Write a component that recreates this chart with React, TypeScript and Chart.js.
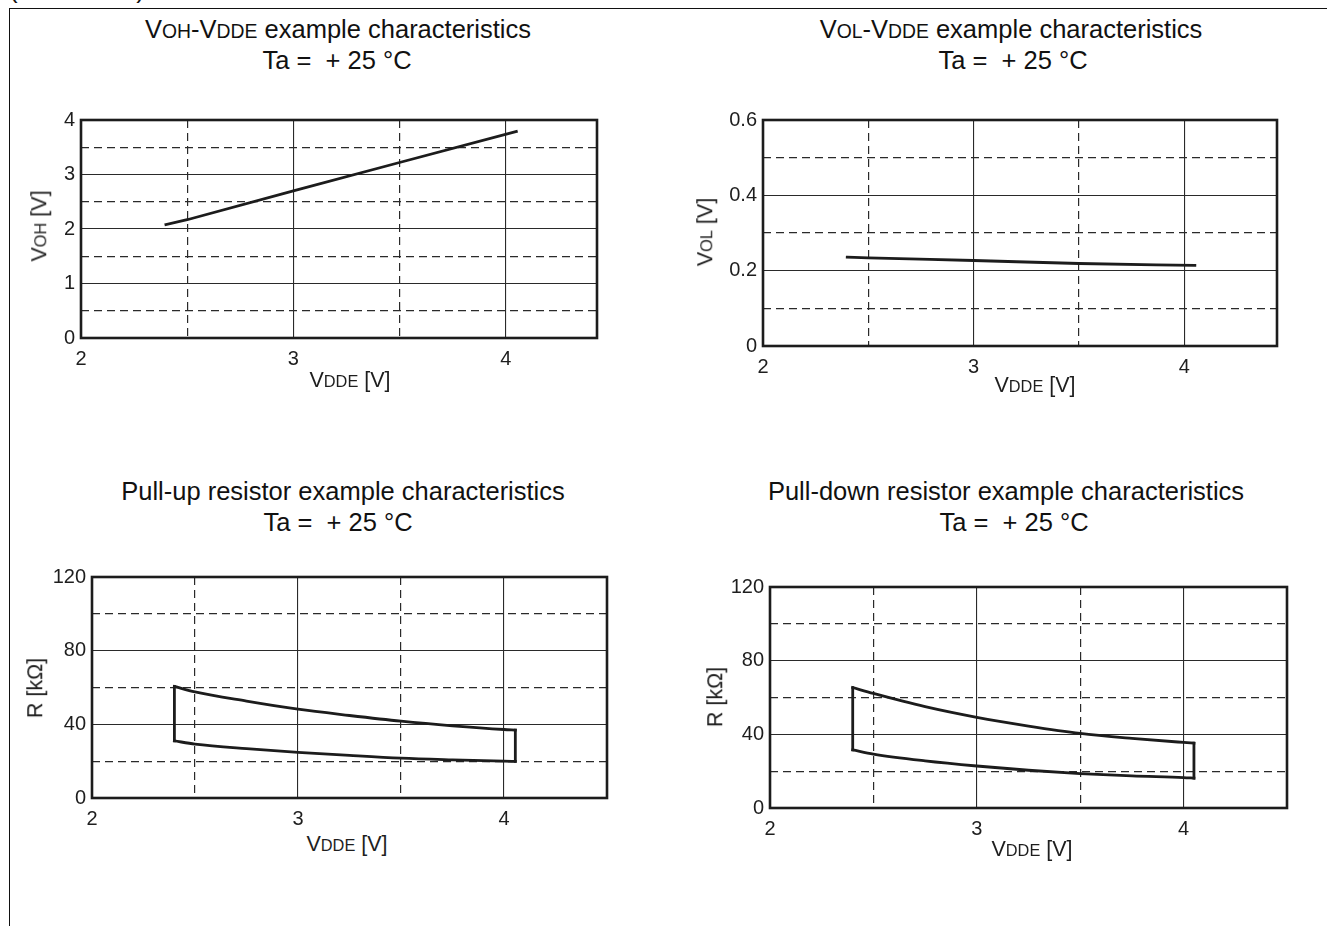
import React, { useEffect, useRef } from "react";
import { Chart, registerables } from "chart.js";

Chart.register(...registerables);

const FONT = "'Liberation Sans', Arial, Helvetica, sans-serif";

// ---- Data ----
// VOH - VDDE
const vohVdde = [2.4, 2.5, 3.0, 3.5, 4.05];
const vohValues = [2.08, 2.17, 2.7, 3.22, 3.79];

// VOL - VDDE
const volVdde = [2.4, 2.5, 3.0, 3.5, 4.05];
const volValues = [0.236, 0.234, 0.227, 0.219, 0.214];

// Pull-up resistor (upper / lower bound curves)
const pullUpVdde = [2.4, 2.5, 2.75, 3.0, 3.25, 3.5, 3.75, 4.0, 4.055];
const pullUpMax = [60.6, 57.6, 52.6, 48.2, 44.8, 41.7, 39.2, 37.2, 36.9];
const pullUpMin = [31.0, 29.3, 26.8, 24.8, 23.1, 21.6, 20.7, 20.0, 19.9];

// Pull-down resistor (upper / lower bound curves)
const pullDownVdde = [2.4, 2.5, 2.75, 3.0, 3.25, 3.5, 3.75, 4.0, 4.05];
const pullDownMax = [65.4, 62.2, 55.0, 49.2, 44.5, 40.5, 37.8, 35.6, 35.2];
const pullDownMin = [31.6, 29.3, 25.6, 22.8, 20.5, 18.7, 17.4, 16.5, 16.2];

// Axis tick settings
const xTickStep = 0.5;
const xLabelStep = 1;
const vohTickStep = 0.5;
const vohLabelStep = 1;
const volTickStep = 0.1;
const volLabelStep = 0.2;
const resTickStep = 20;
const resLabelStep = 40;

// ---- Layout ----
const AXW = 60;
const AXH = 34;
const PADT = 14;
const PADR = 12;
const LINE = "#1c1c1c";
const TEXT = "#1e1e1e";

const isMult = (v: number, step: number) =>
  Math.abs(v / step - Math.round(v / step)) < 1e-6;

const fmt = (v: number) => String(Math.round(v * 1000) / 1000);

const framePlugin = {
  id: "frameBox",
  afterDatasetsDraw(chart: any) {
    const { ctx, chartArea } = chart;
    const { left, top, right, bottom } = chartArea;
    ctx.save();
    ctx.strokeStyle = LINE;
    ctx.lineWidth = 2.6;
    ctx.strokeRect(left, top, right - left, bottom - top);
    ctx.restore();
  },
};

function lineDataset(xs: number[], ys: number[], mono = false) {
  return {
    data: xs.map((x, i) => ({ x, y: ys[i] })),
    showLine: true,
    borderColor: LINE,
    borderWidth: 2.8,
    pointRadius: 0,
    fill: false,
    tension: 0,
    cubicInterpolationMode: mono ? "monotone" : "default",
    borderCapStyle: "square",
    borderJoinStyle: "miter",
  };
}

function edgeDataset(x: number, y1: number, y2: number) {
  return lineDataset([x, x], [y1, y2]);
}

type Spec = {
  L: number;
  T: number;
  R: number;
  B: number;
  xMax: number;
  yMax: number;
  yStep: number;
  yLabelStep: number;
  datasets: any[];
};

function buildConfig(s: Spec): any {
  const gridColor = "#2a2a2a";
  const axisCommon = (step: number, labelStep: number, isX: boolean) => ({
    type: "linear",
    ticks: {
      stepSize: step,
      includeBounds: false,
      autoSkip: false,
      maxRotation: 0,
      padding: isX ? 9 : 6,
      color: TEXT,
      font: { family: FONT, size: 20 },
      callback: (v: number) => (isMult(v, labelStep) ? fmt(v) : ""),
    },
    grid: {
      drawTicks: false,
      color: gridColor,
      lineWidth: (ctx: any) =>
        ctx.tick && isMult(ctx.tick.value, labelStep) ? 1.1 : 1.2,
    },
    border: {
      display: false,
      dash: (ctx: any) =>
        ctx.tick && !isMult(ctx.tick.value, labelStep) ? [8, 5] : [],
    },
  });
  const x = {
    ...axisCommon(xTickStep, xLabelStep, true),
    min: 2,
    max: s.xMax,
    afterFit: (scale: any) => {
      scale.height = AXH;
    },
  };
  const y = {
    ...axisCommon(s.yStep, s.yLabelStep, false),
    min: 0,
    max: s.yMax,
    afterFit: (scale: any) => {
      scale.width = AXW;
    },
  };
  return {
    type: "scatter",
    data: { datasets: s.datasets },
    options: {
      responsive: false,
      maintainAspectRatio: false,
      animation: false,
      events: [],
      layout: { padding: { left: 0, top: PADT, right: PADR, bottom: 0 } },
      plugins: {
        legend: { display: false },
        tooltip: { enabled: false },
        title: { display: false },
      },
      scales: { x, y },
    },
    plugins: [framePlugin],
  };
}

function ChartBox({ spec }: { spec: Spec }) {
  const ref = useRef<HTMLCanvasElement | null>(null);
  const w = spec.R - spec.L + AXW + PADR;
  const h = spec.B - spec.T + PADT + AXH;
  useEffect(() => {
    if (!ref.current) return;
    const chart = new Chart(ref.current, buildConfig(spec));
    return () => chart.destroy();
  }, []);
  return (
    <canvas
      ref={ref}
      width={w}
      height={h}
      style={{
        position: "absolute",
        left: spec.L - AXW,
        top: spec.T - PADT,
        width: w,
        height: h,
      }}
    />
  );
}

const Sm = ({ children }: { children: any }) => (
  <span style={{ fontSize: "0.76em" }}>{children}</span>
);

function Label({
  x,
  y,
  size,
  rotate = false,
  color = TEXT,
  children,
}: {
  x: number;
  y: number;
  size: number;
  rotate?: boolean;
  color?: string;
  children: any;
}) {
  return (
    <div
      style={{
        position: "absolute",
        left: x,
        top: y,
        transform: `translate(-50%, -50%)${rotate ? " rotate(-90deg)" : ""}`,
        whiteSpace: "nowrap",
        fontFamily: FONT,
        fontSize: size,
        lineHeight: 1,
        color,
      }}
    >
      {children}
    </div>
  );
}

const specVoh: Spec = {
  L: 81,
  T: 116,
  R: 597,
  B: 338,
  xMax: 4.43,
  yMax: 4,
  yStep: vohTickStep,
  yLabelStep: vohLabelStep,
  datasets: [lineDataset(vohVdde, vohValues)],
};

const specVol: Spec = {
  L: 763,
  T: 116,
  R: 1277,
  B: 346,
  xMax: 4.44,
  yMax: 0.6,
  yStep: volTickStep,
  yLabelStep: volLabelStep,
  datasets: [lineDataset(volVdde, volValues, true)],
};

const last = (a: number[]) => a[a.length - 1];

const specUp: Spec = {
  L: 92,
  T: 573,
  R: 607,
  B: 798,
  xMax: 4.5,
  yMax: 120,
  yStep: resTickStep,
  yLabelStep: resLabelStep,
  datasets: [
    lineDataset(pullUpVdde, pullUpMax, true),
    lineDataset(pullUpVdde, pullUpMin, true),
    edgeDataset(pullUpVdde[0], pullUpMax[0], pullUpMin[0]),
    edgeDataset(last(pullUpVdde), last(pullUpMax), last(pullUpMin)),
  ],
};

const specDown: Spec = {
  L: 770,
  T: 583,
  R: 1287,
  B: 808,
  xMax: 4.5,
  yMax: 120,
  yStep: resTickStep,
  yLabelStep: resLabelStep,
  datasets: [
    lineDataset(pullDownVdde, pullDownMax, true),
    lineDataset(pullDownVdde, pullDownMin, true),
    edgeDataset(pullDownVdde[0], pullDownMax[0], pullDownMin[0]),
    edgeDataset(last(pullDownVdde), last(pullDownMax), last(pullDownMin)),
  ],
};

const TITLE = 25.5;
const AXT = 21.5;
const TA = "Ta =\u00a0\u00a0+ 25 °C";

export default function App() {
  return (
    <div
      style={{
        position: "absolute",
        left: 0,
        top: 0,
        width: 1327,
        height: 926,
        overflow: "hidden",
        background: "#fff",
      }}
    >
      {/* page frame */}
      <div
        style={{
          position: "absolute",
          left: 9,
          top: 8,
          width: 1318,
          height: 0,
          borderTop: "1.5px solid #111",
        }}
      />
      <div
        style={{
          position: "absolute",
          left: 9,
          top: 8,
          width: 0,
          height: 918,
          borderLeft: "1.5px solid #111",
        }}
      />
      <div
        style={{
          position: "absolute",
          left: 9,
          top: -24,
          fontFamily: FONT,
          fontSize: 26,
          lineHeight: "26px",
          color: "#111",
          whiteSpace: "nowrap",
        }}
      >
        (Continued)
      </div>

      {/* titles */}
      <Label x={338} y={30} size={TITLE} color="#111">
        V<Sm>OH</Sm>-V<Sm>DDE</Sm> example characteristics
      </Label>
      <Label x={337} y={61} size={TITLE} color="#111">
        {TA}
      </Label>
      <Label x={1011} y={30} size={TITLE} color="#111">
        V<Sm>OL</Sm>-V<Sm>DDE</Sm> example characteristics
      </Label>
      <Label x={1013} y={61} size={TITLE} color="#111">
        {TA}
      </Label>
      <Label x={343} y={492} size={TITLE} color="#111">
        Pull-up resistor example characteristics
      </Label>
      <Label x={338} y={523} size={TITLE} color="#111">
        {TA}
      </Label>
      <Label x={1006} y={492} size={TITLE} color="#111">
        Pull-down resistor example characteristics
      </Label>
      <Label x={1014} y={523} size={TITLE} color="#111">
        {TA}
      </Label>

      {/* charts */}
      <ChartBox spec={specVoh} />
      <ChartBox spec={specVol} />
      <ChartBox spec={specUp} />
      <ChartBox spec={specDown} />

      {/* axis titles */}
      <Label x={40} y={226} size={AXT} rotate>
        V<Sm>OH</Sm> [V]
      </Label>
      <Label x={350} y={381} size={AXT}>
        V<Sm>DDE</Sm> [V]
      </Label>
      <Label x={706} y={232} size={AXT} rotate>
        V<Sm>OL</Sm> [V]
      </Label>
      <Label x={1035} y={386} size={AXT}>
        V<Sm>DDE</Sm> [V]
      </Label>
      <Label x={36} y={688} size={AXT} rotate>
        R [kΩ]
      </Label>
      <Label x={347} y={845} size={AXT}>
        V<Sm>DDE</Sm> [V]
      </Label>
      <Label x={716} y={697} size={AXT} rotate>
        R [kΩ]
      </Label>
      <Label x={1032} y={850} size={AXT}>
        V<Sm>DDE</Sm> [V]
      </Label>
    </div>
  );
}
